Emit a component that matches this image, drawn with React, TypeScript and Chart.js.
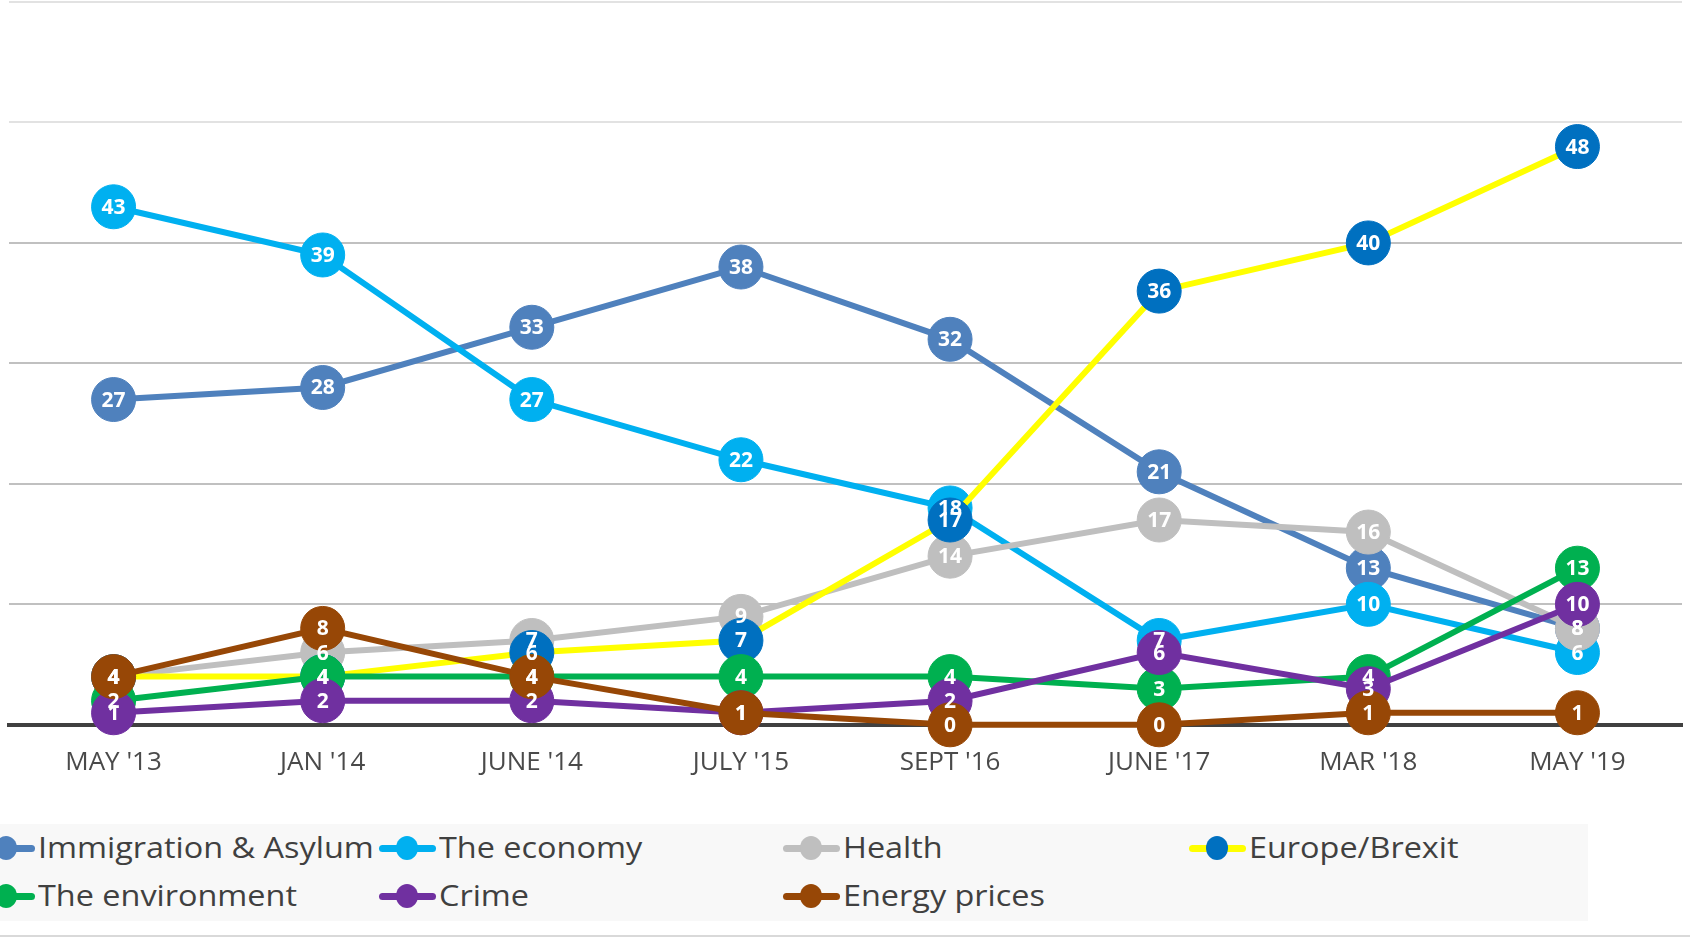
import React, { useEffect, useRef } from "react";
import { Chart, registerables } from "chart.js";

Chart.register(...registerables);

const categories = ["MAY '13", "JAN '14", "JUNE '14", "JULY '15", "SEPT '16", "JUNE '17", "MAR '18", "MAY '19"];

const immigration = [27, 28, 33, 38, 32, 21, 13, 8];
const economy = [43, 39, 27, 22, 18, 7, 10, 6];
const health = [4, 6, 7, 9, 14, 17, 16, 8];
const europe = [4, 4, 6, 7, 17, 36, 40, 48];
const environment = [2, 4, 4, 4, 4, 3, 4, 13];
const crime = [1, 2, 2, 1, 2, 6, 3, 10];
const energy = [4, 8, 4, 1, 0, 0, 1, 1];

const seriesNames = ["Immigration & Asylum", "The economy", "Health", "Europe/Brexit", "The environment", "Crime", "Energy prices"];
const seriesValues = [immigration, economy, health, europe, environment, crime, energy];
const lineColors = ["#4F81BD", "#00B0F0", "#BFBFBF", "#FFFF00", "#00B050", "#7030A0", "#974706"];
const markerColors = ["#4F81BD", "#00B0F0", "#BFBFBF", "#0070C0", "#00B050", "#7030A0", "#974706"];

const yMax = 60;
const yStep = 10;

const legendCols = [-22, 379, 783, 1189];
const legendRows = [848, 896];
const legendSlots = [
  [0, 0], [1, 0], [2, 0], [3, 0],
  [0, 1], [1, 1], [2, 1],
];

const FONT = "'Open Sans', 'Noto Sans', sans-serif";

const labelPlugin = {
  id: "pointLabels",
  afterDatasetsDraw(chart: any) {
    const ctx = chart.ctx;
    ctx.save();
    ctx.font = `bold 21px ${FONT}`;
    ctx.fillStyle = "#FFFFFF";
    ctx.textAlign = "center";
    ctx.textBaseline = "middle";
    chart.data.datasets.forEach((ds: any, i: number) => {
      const meta = chart.getDatasetMeta(i);
      meta.data.forEach((pt: any, j: number) => {
        ctx.fillText(String(ds.data[j]), pt.x, pt.y + 1);
      });
    });
    ctx.restore();
  },
};

export default function App() {
  const canvasRef = useRef<HTMLCanvasElement | null>(null);

  useEffect(() => {
    document.body.style.margin = "0";
    const canvas = canvasRef.current;
    if (!canvas) return;
    const chart = new Chart(canvas, {
      type: "line",
      data: {
        labels: categories,
        datasets: seriesValues.map((vals, i) => ({
          label: seriesNames[i],
          data: vals,
          borderColor: lineColors[i],
          backgroundColor: markerColors[i],
          pointBackgroundColor: markerColors[i],
          pointBorderColor: markerColors[i],
          pointBorderWidth: 1,
          pointRadius: 22,
          pointHoverRadius: 22,
          borderWidth: 6,
          tension: 0,
          fill: false,
          clip: false,
          order: seriesValues.length - i,
        })),
      },
      options: {
        responsive: false,
        maintainAspectRatio: false,
        animation: false,
        events: [],
        layout: { autoPadding: false, padding: { left: 9, right: 8, top: 2, bottom: 0 } },
        plugins: {
          legend: { display: false },
          tooltip: { enabled: false },
        },
        scales: {
          x: {
            type: "category",
            offset: true,
            grid: { display: false, drawTicks: false },
            border: { display: true, color: "#404040", width: 4 },
            ticks: {
              color: "#4a4a4a",
              font: { family: FONT, size: 26 },
              padding: 22,
              maxRotation: 0,
              autoSkip: false,
            },
          },
          y: {
            min: 0,
            max: yMax,
            ticks: { display: false, stepSize: yStep },
            border: { display: false },
            grid: {
              drawTicks: false,
              lineWidth: 2,
              color: (c: any) => {
                const v = c.tick ? c.tick.value : 0;
                if (v === 0) return "rgba(0,0,0,0)";
                if (v >= 50) return "#E2E2E2";
                return "#C0C0C0";
              },
            },
          },
        },
      },
      plugins: [labelPlugin],
    });
    return () => chart.destroy();
  }, []);

  return (
    <div style={{ position: "relative", width: 1690, height: 937, background: "#FFFFFF", overflow: "hidden" }}>
      <canvas ref={canvasRef} width={1690} height={800} style={{ position: "absolute", left: 0, top: 0, width: 1690, height: 800 }} />
      <div style={{ position: "absolute", left: 0, top: 824, width: 1588, height: 97, background: "#F8F8F8" }} />
      {seriesNames.map((name, i) => {
        const [c, r] = legendSlots[i];
        const x = legendCols[c];
        const y = legendRows[r];
        return (
          <React.Fragment key={name}>
            <div style={{ position: "absolute", left: x, top: y - 3.5, width: 57, height: 7, borderRadius: 3.5, background: lineColors[i] }} />
            <div style={{ position: "absolute", left: x + 17, top: y - 12, width: 22, height: 24, borderRadius: "50%", background: markerColors[i] }} />
            <div style={{ position: "absolute", left: x + 60, top: y - 21, height: 40, lineHeight: "40px", fontFamily: FONT, fontSize: 30, color: "#404040", whiteSpace: "nowrap", transform: "scaleX(1.08)", transformOrigin: "left center" }}>{name}</div>
          </React.Fragment>
        );
      })}
      <div style={{ position: "absolute", left: 0, top: 935, width: 1690, height: 2, background: "#D9D9D9" }} />
    </div>
  );
}
